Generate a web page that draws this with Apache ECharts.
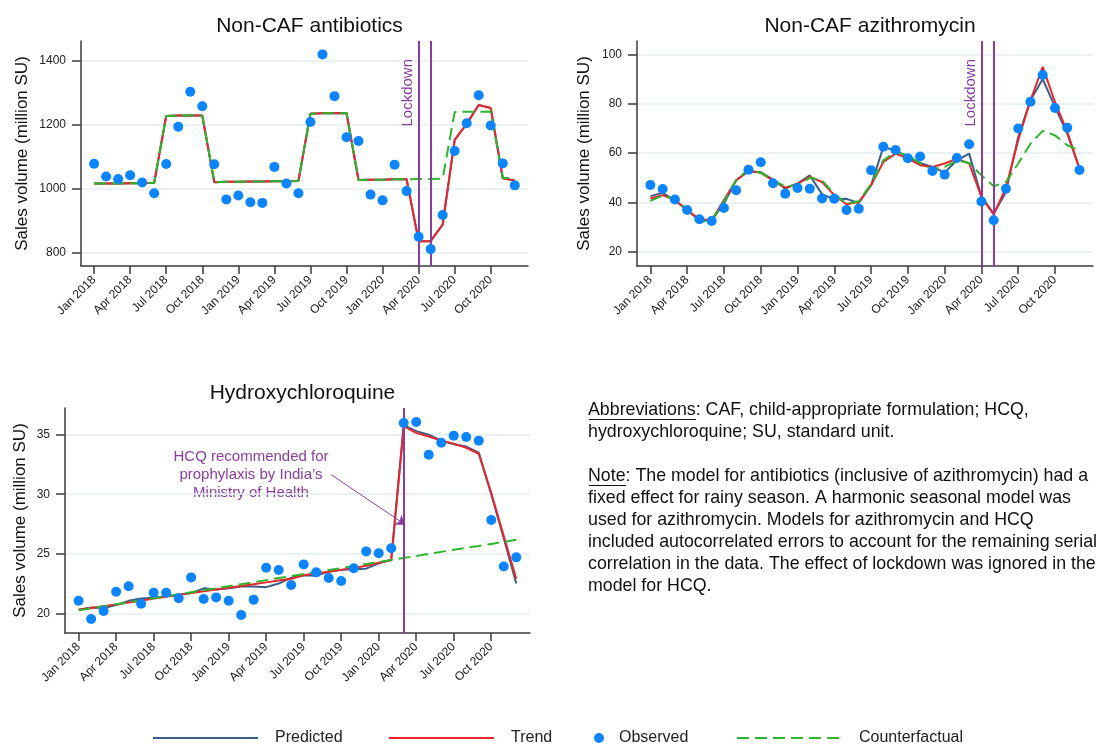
<!DOCTYPE html>
<html>
<head>
<meta charset="utf-8">
<script src="https://cdn.jsdelivr.net/npm/echarts@6/dist/echarts.min.js"></script>
<style>
html, body { margin: 0; background: #fff; }
#chart { width: 1113px; height: 750px; }
</style>
</head>
<body>
<div id="chart"></div>
<script>
// months, Jan 2018 - Dec 2020 (x = index)
const months = [
  'Jan 2018', 'Feb 2018', 'Mar 2018', 'Apr 2018', 'May 2018', 'Jun 2018',
  'Jul 2018', 'Aug 2018', 'Sep 2018', 'Oct 2018', 'Nov 2018', 'Dec 2018',
  'Jan 2019', 'Feb 2019', 'Mar 2019', 'Apr 2019', 'May 2019', 'Jun 2019',
  'Jul 2019', 'Aug 2019', 'Sep 2019', 'Oct 2019', 'Nov 2019', 'Dec 2019',
  'Jan 2020', 'Feb 2020', 'Mar 2020', 'Apr 2020', 'May 2020', 'Jun 2020',
  'Jul 2020', 'Aug 2020', 'Sep 2020', 'Oct 2020', 'Nov 2020', 'Dec 2020'
]
const xTicks = [0, 3, 6, 9, 12, 15, 18, 21, 24, 27, 30, 33]

// Non-CAF antibiotics
const abxObserved = [1078, 1038, 1030, 1042, 1019, 985, 1077, 1194, 1304, 1258, 1076, 966,
  978, 957, 955, 1068, 1016, 985, 1209, 1421, 1290, 1161, 1149, 981,
  963, 1075, 992, 849, 810, 917, 1118, 1205, 1293, 1198, 1079, 1010]
const abxTrend = [1016, 1016, 1016, 1017, 1017, 1018, 1228, 1229, 1229, 1229, 1020, 1021,
  1021, 1022, 1022, 1023, 1023, 1024, 1235, 1236, 1236, 1237, 1027, 1028,
  1028, 1029, 1029, 835, 835, 887, 1153, 1203, 1262, 1253, 1032, 1025]
const abxPredicted = abxTrend // same line in the picture
const abxCounterfactual = [1016, 1016, 1016, 1017, 1017, 1018, 1228, 1229, 1229, 1229, 1020, 1021,
  1021, 1022, 1022, 1023, 1023, 1024, 1235, 1236, 1236, 1237, 1027, 1028,
  1028, 1029, 1029, 1030, 1030, 1031, 1240, 1241, 1241, 1242, 1033, 1034]
const abxTicks = [800, 1000, 1200, 1400]

// Non-CAF azithromycin
const aziObserved = [47.1, 45.5, 41.2, 37.0, 33.2, 32.5, 37.8, 45.0, 53.3, 56.3, 47.8, 43.6,
  45.9, 45.6, 41.6, 41.5, 37.0, 37.5, 53.1, 62.6, 61.3, 57.9, 58.6, 52.8,
  51.3, 58.0, 63.6, 40.4, 32.8, 45.6, 70.0, 80.8, 91.6, 78.3, 70.3, 53.2]
const aziPredicted = [42.6, 43.9, 40.9, 36.9, 32.8, 32.8, 39.6, 49.0, 52.6, 52.3, 49.3, 45.6,
  47.7, 51.0, 43.4, 41.2, 41.5, 39.8, 47.0, 62.5, 61.1, 58.4, 56.0, 54.4,
  52.1, 57.1, 59.8, 42.3, 35.5, 44.3, 66.5, 81.4, 90.0, 78.7, 67.9, 53.7]
const aziTrend = [41.6, 43.0, 41.0, 37.0, 33.2, 32.8, 41.0, 49.0, 53.0, 52.0, 49.0, 46.0,
  47.5, 50.4, 48.3, 43.0, 39.3, 40.2, 47.0, 56.4, 59.8, 57.8, 55.1, 54.4,
  55.8, 57.8, 55.8, 42.3, 35.2, 46.0, 65.2, 81.4, 94.9, 80.7, 68.6, 53.7]
const aziCounterfactual = [40.7, 42.8, 41.5, 37.0, 32.1, 33.0, 40.5, 49.0, 53.5, 52.0, 49.0, 46.5,
  47.0, 50.0, 49.0, 43.5, 39.5, 40.5, 47.5, 57.1, 60.5, 59.1, 55.8, 53.5,
  54.4, 57.0, 56.0, 51.0, 46.6, 48.3, 55.8, 63.8, 69.0, 67.2, 63.2, 61.1]
const aziTicks = [20, 40, 60, 80, 100]

// Hydroxychloroquine
const hcqObserved = [21.06, 19.52, 20.19, 21.82, 22.27, 20.81, 21.73, 21.73, 21.26, 23.02, 21.2, 21.34,
  21.06, 19.86, 21.15, 23.83, 23.64, 22.38, 24.11, 23.44, 22.97, 22.71, 23.78, 25.2,
  25.04, 25.46, 35.98, 36.06, 33.32, 34.33, 34.92, 34.8, 34.5, 27.84, 23.94, 24.7]
const hcqPredicted = [20.3, 20.5, 20.45, 20.7, 21.05, 21.25, 21.3, 21.45, 21.55, 21.7, 22.1, 22.0,
  22.1, 22.25, 22.25, 22.2, 22.5, 23.0, 23.2, 23.15, 23.5, 23.65, 23.7, 23.75,
  24.2, 24.5, 35.8, 35.3, 35.0, 34.5, 34.2, 34.0, 33.5, 30.0, 26.3, 22.5]
const hcqTrend = [20.3, 20.45, 20.6, 20.75, 20.9, 21.05, 21.25, 21.4, 21.55, 21.7, 21.85, 22.0,
  22.15, 22.3, 22.45, 22.6, 22.75, 22.9, 23.2, 23.35, 23.5, 23.65, 23.8, 24.0,
  24.25, 24.45, 35.7, 35.15, 34.85, 34.5, 34.25, 33.9, 33.4, 30.1, 26.5, 22.9]
const hcqCounterfactual = [20.25, 20.42, 20.59, 20.76, 20.93, 21.1, 21.27, 21.44, 21.6, 21.77, 21.94, 22.11,
  22.28, 22.45, 22.62, 22.79, 22.96, 23.13, 23.3, 23.47, 23.64, 23.8, 23.97, 24.14,
  24.31, 24.48, 24.65, 24.82, 24.99, 25.16, 25.33, 25.5, 25.66, 25.83, 26.0, 26.17]
const hcqTicks = [20, 25, 30, 35]

const lockdownIdx = [27, 28] // Apr, May 2020
const hcqIdx = 26 // Mar 2020
const arrowFrom = [20.2, 31.64]
const arrowTo = [26.13, 27.44]

const noteLines = [
  'Abbreviations: CAF, child-appropriate formulation; HCQ,',
  'hydroxychloroquine; SU, standard unit.',
  '',
  'Note: The model for antibiotics (inclusive of azithromycin) had a',
  'fixed effect for rainy season. A harmonic seasonal model was',
  'used for azithromycin. Models for azithromycin and HCQ',
  'included autocorrelated errors to account for the remaining serial',
  'correlation in the data. The effect of lockdown was ignored in the',
  'model for HCQ.'
]

const FONT = '"Liberation Sans", Arial, Helvetica, sans-serif'
const colors = {
  Predicted: '#3b5d8a',
  Trend: '#e8262c',
  Observed: '#0b84fe',
  Counterfactual: '#2db52d'
}
const purple = '#8a3d9e'
const axisColor = '#3a3a3a'

const panels = [
  { title: 'Non-CAF antibiotics', grid: { left: 81, top: 41, width: 447, height: 225 },
    min: 757, max: 1463, ticks: abxTicks, nameGap: 50,
    pred: abxPredicted, trend: abxTrend, cf: abxCounterfactual, obs: abxObserved },
  { title: 'Non-CAF azithromycin', grid: { left: 637, top: 41, width: 456, height: 225 },
    min: 14.3, max: 105.4, ticks: aziTicks, nameGap: 44,
    pred: aziPredicted, trend: aziTrend, cf: aziCounterfactual, obs: aziObserved },
  { title: 'Hydroxychloroquine', grid: { left: 65, top: 408, width: 465, height: 225 },
    min: 18.35, max: 37.24, ticks: hcqTicks, nameGap: 36,
    pred: hcqPredicted, trend: hcqTrend, cf: hcqCounterfactual, obs: hcqObserved }
]

const toXY = arr => arr.map((v, i) => [i, v])

function lockdownLine() {
  return {
    symbol: 'none',
    silent: true,
    animation: false,
    lineStyle: { color: purple, width: 2, type: 'solid' },
    label: { show: false },
    emphasis: { disabled: true },
    data: [
      {
        xAxis: lockdownIdx[0],
        label: {
          show: true,
          formatter: 'Lockdown',
          position: 'insideEndTop',
          color: purple,
          fontSize: 15,
          fontFamily: FONT,
          distance: [18, 3]
        }
      },
      { xAxis: lockdownIdx[1] }
    ]
  }
}

function hcqLine() {
  return {
    symbol: 'none',
    silent: true,
    animation: false,
    lineStyle: { color: purple, width: 2, type: 'solid' },
    label: { show: false },
    emphasis: { disabled: true },
    data: [
      { xAxis: hcqIdx },
      [
        { coord: arrowFrom, symbol: 'none', lineStyle: { width: 1, color: purple } },
        { coord: arrowTo, symbol: 'arrow', symbolSize: 9 }
      ]
    ]
  }
}

const series = []
panels.forEach((p, i) => {
  const base = { xAxisIndex: i, yAxisIndex: i, animation: false }
  series.push({
    ...base, type: 'line', name: 'Predicted', data: toXY(p.pred),
    symbol: 'none', z: 2,
    lineStyle: { color: colors.Predicted, width: 2 }, itemStyle: { color: colors.Predicted },
    markLine: i < 2 ? lockdownLine() : hcqLine()
  })
  series.push({
    ...base, type: 'line', name: 'Trend', data: toXY(p.trend),
    symbol: 'none', z: 3,
    lineStyle: { color: colors.Trend, width: 2 }, itemStyle: { color: colors.Trend }
  })
  series.push({
    ...base, type: 'line', name: 'Counterfactual', data: toXY(p.cf),
    symbol: 'none', z: 4,
    lineStyle: { color: colors.Counterfactual, width: 2, type: [12, 6] },
    itemStyle: { color: colors.Counterfactual }
  })
  series.push({
    ...base, type: 'scatter', name: 'Observed', data: toXY(p.obs),
    symbol: 'circle', symbolSize: 10, z: 5,
    itemStyle: { color: colors.Observed, opacity: 1 }
  })
})

const legendBase = {
  padding: 0,
  selectedMode: false,
  itemHeight: 14,
  itemWidth: 105,
  top: 730,
  itemStyle: { opacity: 0 }, // line only, no marker in the key
  textStyle: { fontSize: 16, color: '#222', fontFamily: FONT, padding: [0, 0, 0, 12] }
}

const option = {
  backgroundColor: '#fff',
  animation: false,
  title: panels.map(p => ({
    text: p.title,
    left: p.grid.left + p.grid.width / 2,
    top: p.grid.top - 30,
    textAlign: 'center',
    textStyle: { fontSize: 21, fontWeight: 'normal', color: '#111', fontFamily: FONT }
  })),
  grid: panels.map(p => ({ ...p.grid, containLabel: false })),
  xAxis: panels.map((p, i) => ({
    type: 'value',
    gridIndex: i,
    min: -1.09,
    max: 36.1,
    axisLine: { show: true, onZero: false, lineStyle: { color: axisColor, width: 1.5 } },
    axisTick: { show: true, customValues: xTicks, length: 8, lineStyle: { color: axisColor, width: 1.5 } },
    axisLabel: {
      customValues: xTicks,
      formatter: v => months[v],
      rotate: 45,
      margin: 12,
      fontSize: 12,
      color: '#222',
      fontFamily: FONT
    },
    splitLine: { show: false }
  })),
  yAxis: panels.map((p, i) => ({
    type: 'value',
    gridIndex: i,
    min: p.min,
    max: p.max,
    name: 'Sales volume (million SU)',
    nameLocation: 'middle',
    nameGap: p.nameGap,
    nameTextStyle: { fontSize: 17, color: '#111', fontFamily: FONT },
    axisLine: { show: true, onZero: false, lineStyle: { color: axisColor, width: 1.5 } },
    axisTick: { show: true, customValues: p.ticks, length: 9, lineStyle: { color: axisColor, width: 1.5 } },
    axisLabel: {
      customValues: p.ticks,
      formatter: v => String(v),
      margin: 15,
      fontSize: 12,
      color: '#222',
      fontFamily: FONT
    },
    splitLine: { show: true, lineStyle: { color: '#e4eef2', width: 1.5 } }
  })),
  legend: [
    { ...legendBase, data: ['Predicted'], left: 152 },
    { ...legendBase, data: ['Trend'], left: 388 },
    { ...legendBase, data: ['Observed'], left: 594, itemWidth: 10, itemHeight: 10,
      itemStyle: { opacity: 1 },
      textStyle: { ...legendBase.textStyle, padding: [0, 0, 0, 10] } },
    { ...legendBase, data: ['Counterfactual'], left: 736 }
  ],
  graphic: [
    {
      type: 'text',
      x: 251,
      y: 448,
      silent: true,
      style: {
        text: 'HCQ recommended for\nprophylaxis by India’s\nMinistry of Health',
        align: 'center',
        verticalAlign: 'top',
        fontSize: 15,
        lineHeight: 18,
        fontFamily: FONT,
        fill: purple
      }
    },
    {
      type: 'text',
      x: 588,
      y: 399,
      silent: true,
      style: {
        text: noteLines.join('\n'),
        fontSize: 17.8,
        lineHeight: 22,
        fontFamily: FONT,
        fill: '#111'
      }
    },
    { type: 'line', silent: true, shape: { x1: 589, y1: 419.5, x2: 696, y2: 419.5 }, style: { stroke: '#111', lineWidth: 1 } },
    { type: 'line', silent: true, shape: { x1: 589, y1: 485.5, x2: 626, y2: 485.5 }, style: { stroke: '#111', lineWidth: 1 } }
  ],
  series: series
}

const chart = echarts.init(document.getElementById('chart'), null, { renderer: 'canvas' })
chart.setOption(option)
</script>
</body>
</html>
